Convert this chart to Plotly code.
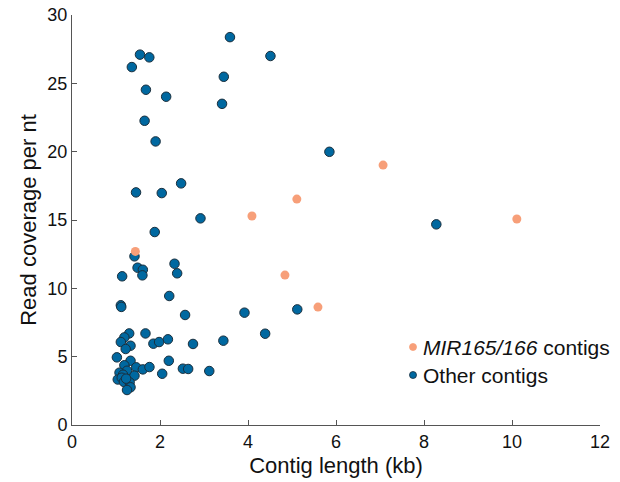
import plotly.graph_objects as go

# Other contigs (blue)
other_len = [3.59, 1.545, 1.757, 4.51, 1.36, 3.45, 1.68, 2.14, 3.41, 1.65, 1.90, 5.85,
             1.455, 2.04, 2.48, 2.92, 8.28, 1.88, 1.42, 2.33, 1.49, 1.61, 2.39, 1.14,
             1.60, 2.21, 1.11, 1.12, 2.57, 3.92, 5.12, 3.44, 4.39, 3.12,
             1.30, 1.19, 1.11, 1.67, 1.85, 1.98, 1.33, 1.22, 1.02, 1.33, 1.19, 1.46,
             1.61, 1.76, 2.05, 1.25, 1.08, 1.16, 1.42, 1.04, 1.13, 1.18, 1.31, 1.33,
             1.25, 1.23, 2.18, 2.75, 2.20, 2.52, 2.64]
other_cov = [28.38, 27.1, 26.9, 27.0, 26.19, 25.48, 24.53, 24.02, 23.5, 22.26, 20.75, 19.99,
             17.02, 16.97, 17.68, 15.12, 14.68, 14.12, 12.34, 11.8, 11.51, 11.36, 11.1, 10.88,
             10.95, 9.44, 8.76, 8.64, 8.05, 8.22, 8.46, 6.17, 6.68, 3.95,
             6.70, 6.41, 6.07, 6.70, 5.95, 6.07, 5.80, 5.56, 4.95, 4.70, 4.37, 4.22,
             4.07, 4.24, 3.75, 3.97, 3.83, 3.68, 3.61, 3.33, 3.46, 3.15, 3.12, 2.76,
             2.56, 3.39, 6.27, 5.93, 4.70, 4.12, 4.10]

# MIR165/166 contigs (orange)
mir_len = [1.44, 4.09, 5.11, 7.07, 10.11, 4.84, 5.59]
mir_cov = [12.7, 15.29, 16.53, 19.02, 15.07, 10.97, 8.63]

x_ticks = [0, 2, 4, 6, 8, 10, 12]
y_ticks = [0, 5, 10, 15, 20, 25, 30]

legend_labels = ["<i>MIR165/166</i> contigs", "Other contigs"]

BLUE = "#0068A0"
ORANGE = "#F79F79"
EDGE = "#1a2f3d"
FONT = "Liberation Sans, Arial, sans-serif"

fig = go.Figure()
fig.add_trace(go.Scatter(x=other_len, y=other_cov, mode="markers", name="Other contigs",
                         showlegend=False,
                         marker=dict(color=BLUE, size=9.5, line=dict(color=EDGE, width=1))))
fig.add_trace(go.Scatter(x=mir_len, y=mir_cov, mode="markers", name="MIR165/166 contigs",
                         showlegend=False,
                         marker=dict(color=ORANGE, size=9, line=dict(width=0))))

axis_common = dict(showline=True, linecolor="#555", linewidth=1, ticks="inside",
                   ticklen=5, tickcolor="#555", showgrid=False, zeroline=False,
                   automargin=False,
                   tickfont=dict(size=18, color="#111", family=FONT))

# manual legend (markers + text), placed in paper coordinates
plot_w, plot_h = 528, 410
leg_x_marker = (413 - 72) / plot_w
leg_x_text = (421 - 72) / plot_w
leg_rows = [(425 - 347) / plot_h, (425 - 375) / plot_h]
leg_colors = [ORANGE, BLUE]
leg_edges = [ORANGE, EDGE]
shapes, annots = [], []
for lbl, yy, col, ed in zip(legend_labels, leg_rows, leg_colors, leg_edges):
    shapes.append(dict(type="circle", xref="paper", yref="paper", xsizemode="pixel",
                       ysizemode="pixel", xanchor=leg_x_marker, yanchor=yy,
                       x0=-3.5, x1=3.5, y0=-3.5, y1=3.5, fillcolor=col,
                       line=dict(color=ed, width=0.8)))
    annots.append(dict(text=lbl, xref="paper", yref="paper", x=leg_x_text, y=yy,
                       xanchor="left", yanchor="middle", showarrow=False,
                       font=dict(size=21, family=FONT, color="#111")))

fig.update_layout(
    width=620, height=482,
    margin=dict(l=72, r=20, t=15, b=57),
    paper_bgcolor="white", plot_bgcolor="white",
    font=dict(family=FONT, size=18, color="#111"),
    xaxis=dict(range=[0, 12], tickvals=x_ticks, title=dict(text="Contig length (kb)", standoff=7),
               **axis_common),
    yaxis=dict(range=[0, 30], tickvals=y_ticks, title=dict(text="Read coverage per nt", standoff=4),
               **axis_common),
    showlegend=False,
    shapes=shapes,
    annotations=annots,
)

fig.write_html("out.html")
